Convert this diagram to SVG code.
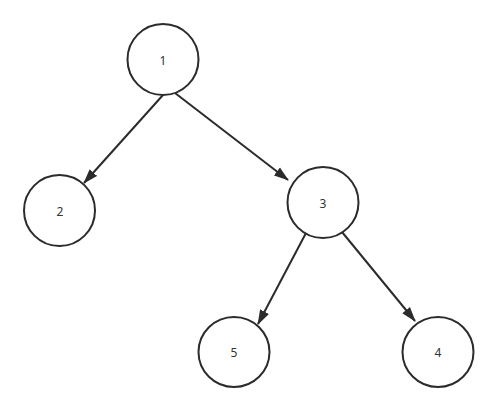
<svg xmlns="http://www.w3.org/2000/svg" width="498" height="412" viewBox="0 0 498 412">
<style>
.node ellipse{fill:#fff;stroke:#2b2b2b;stroke-width:2}
.node text{font-family:"Noto Sans","Liberation Sans",sans-serif;font-size:12px;fill:#333;text-anchor:middle;dominant-baseline:central}
.edge{stroke:#2b2b2b;stroke-width:2;fill:none;marker-end:url(#arr)}
</style>
<defs>
<marker id="arr" markerUnits="userSpaceOnUse" markerWidth="15" markerHeight="11" refX="14" refY="5.5" orient="auto" viewBox="0 0 15 11">
<path d="M0,0.5 L15,5.5 L0,10.5 z" fill="#2b2b2b"/>
</marker>
</defs>
<rect width="498" height="412" fill="#fff"/>
<g id="connectors">
<line class="edge" x1="163" y1="95" x2="84" y2="183"/>
<line class="edge" x1="175" y1="93" x2="288" y2="180"/>
<line class="edge" x1="306" y1="233" x2="258" y2="324"/>
<line class="edge" x1="342" y1="232" x2="415" y2="321"/>
</g>
<g id="node1" class="node"><ellipse cx="163" cy="59.5" rx="35.5" ry="35.5"/><text x="163" y="60">1</text></g>
<g id="node2" class="node"><ellipse cx="59.5" cy="210.5" rx="35.5" ry="35.5"/><text x="60" y="211">2</text></g>
<g id="node3" class="node"><ellipse cx="323" cy="202.5" rx="35.5" ry="35.5"/><text x="323" y="203">3</text></g>
<g id="node5" class="node"><ellipse cx="234" cy="352" rx="35.5" ry="35"/><text x="234" y="352">5</text></g>
<g id="node4" class="node"><ellipse cx="438" cy="352" rx="35.5" ry="35"/><text x="438" y="352">4</text></g>
</svg>
